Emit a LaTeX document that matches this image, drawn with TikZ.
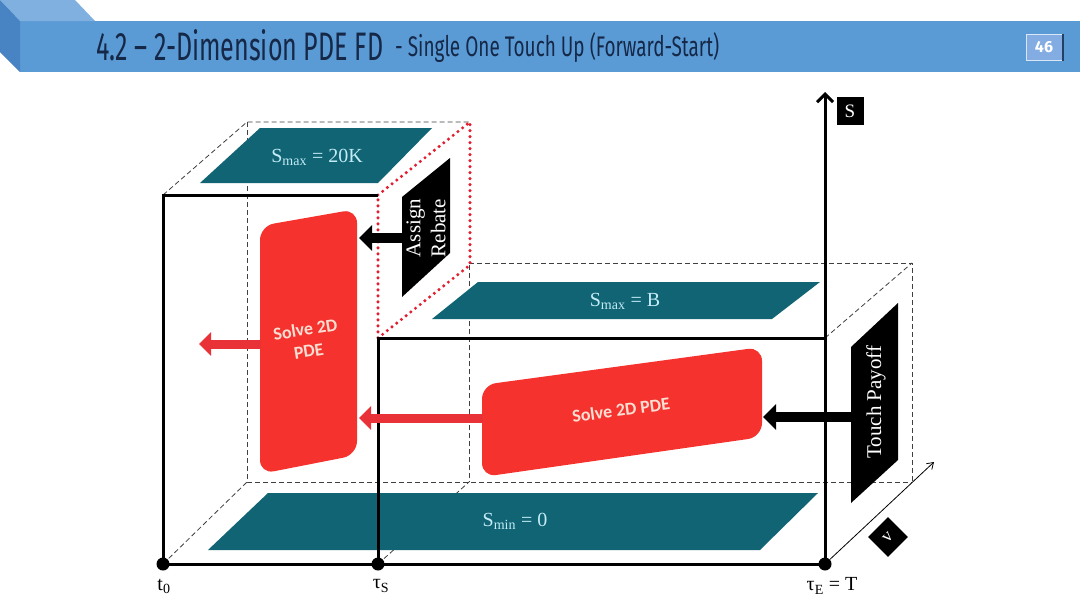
\documentclass[tikz,border=0pt]{standalone}
\usepackage{fontspec}
\setmainfont{Liberation Serif}
\newfontfamily\titlefont{Fira Sans}
\newfontfamily\calfont{Carlito}
\usetikzlibrary{arrows.meta}
\definecolor{bannerc}{RGB}{91,155,213}
\definecolor{bannertop}{RGB}{128,176,224}
\definecolor{bannerside}{RGB}{72,132,196}
\definecolor{titlec}{RGB}{22,40,72}
\definecolor{pagec}{RGB}{130,172,226}
\definecolor{tealc}{RGB}{16,100,116}
\definecolor{platetext}{RGB}{196,236,246}
\definecolor{redc}{RGB}{245,50,46}
\definecolor{redarr}{RGB}{232,50,56}
\definecolor{redtext}{RGB}{252,222,210}
\definecolor{dotred}{RGB}{226,30,48}
\tikzset{
  dashedge/.style={draw=black!75, line width=0.8pt, dash pattern=on 5pt off 3pt},
  frontedge/.style={draw=black, line width=3pt},
  plate/.style={fill=tealc},
  platelabel/.style={text=platetext, font=\fontsize{20}{20}\selectfont, inner sep=0pt},
  redblock/.style={fill=redc, rounded corners=14pt},
  redlabel/.style={text=redtext, font=\calfont\bfseries\fontsize{18}{22}\selectfont, align=center, inner sep=0pt},
  blackpar/.style={fill=black},
  blacklabel/.style={text=white, font=\fontsize{21}{25}\selectfont, align=center, inner sep=0pt, rotate=90},
  blackarrow/.style={draw=black, line width=10pt, -{Triangle[length=13pt,width=25pt]}},
  redarrow/.style={draw=redarr, line width=9pt, -{Triangle[length=12pt,width=23pt]}},
  timedot/.style={circle, fill=black, minimum size=13pt, inner sep=0pt},
  timelabel/.style={font=\fontsize{20}{20}\selectfont, inner sep=0pt},
}
\begin{document}
\begin{tikzpicture}[x=1pt,y=-1pt]
\useasboundingbox (0,0) rectangle (1080,608);
\fill[white] (0,0) rectangle (1080,608);

% ---- header banner
\fill[bannerc] (20,21) rectangle (1080,72);
\fill[bannertop] (0,0) -- (75,0) -- (95,21) -- (20,21) -- cycle;
\fill[bannerside] (0,0) -- (20,21) -- (20,72) -- (0,52) -- cycle;
\node[anchor=base west, inner sep=0pt, text=titlec] (title) at (96,60)
  {\resizebox{287pt}{31pt}{\titlefont 4.2 – 2-Dimension PDE FD}};
\node[anchor=south west, inner sep=0pt, text=titlec] (subtitle) at (395,63)
  {\resizebox*{324pt}{30pt}{\titlefont - Single One Touch Up (Forward-Start)}};
\node[fill=pagec, draw=white!70!pagec, line width=0.8pt, minimum width=36pt, minimum height=26pt,
      inner sep=0pt, text=white, font=\titlefont\bfseries\fontsize{16}{16}\selectfont] (page) at (1044,47) {46};
\draw[line width=2pt, draw=titlec!80!bannerc] (1063,34) -- (1063,61);

% ---- back (hidden) edges
\draw[dashedge] (163,195) -- (247,122) -- (470,122);
\draw[dashedge] (247,122) -- (247,482) -- (912,482);
\draw[dashedge] (163,564) -- (247,482);
\draw[dashedge] (378,564) -- (469,482);
\draw[dashedge] (469,265) -- (469,482);
\draw[dashedge] (469,263) -- (912,263) -- (912,482);
\draw[dashedge] (825,338) -- (912,263);

% ---- red dotted face
\draw[draw=dotred, line width=3.4pt, line cap=round, dash pattern=on 0pt off 6pt]
  (378,195) -- (470,122) -- (470,265) -- (378,338) -- cycle;

% ---- teal plates
\fill[plate] (200,183) -- (260,128) -- (432,128) -- (378,183) -- cycle;
\node[platelabel] (smax1) at (317,157) {S\textsubscript{max} = 20K};
\fill[plate] (432,319) -- (478,282) -- (820,282) -- (772,319) -- cycle;
\node[platelabel] (smax2) at (625,301) {S\textsubscript{max} = B};
\fill[plate] (208,550) -- (268,493) -- (818,493) -- (760,550) -- cycle;
\node[platelabel] (smin) at (515,521) {S\textsubscript{min} = 0};

% ---- red blocks
\fill[redblock] (260,350) -- (260,226) -- (357,209) -- (357,455) -- (260,474) -- cycle;
\node[redlabel, rotate=9] (solveA) at (307,340) {Solve 2D\\PDE};
\fill[redblock] (482,430) -- (482,385) -- (762,347) -- (762,437) -- (482,477) -- cycle;
\node[redlabel, rotate=7.7] (solveB) at (621,410) {Solve 2D PDE};

% ---- black parallelograms
\fill[blackpar] (402,197) -- (450,158) -- (450,253) -- (402,297) -- cycle;
\node[blacklabel] (rebate) at (426,228) {Assign\\Rebate};
\fill[blackpar] (851,347) -- (898,303) -- (898,460) -- (851,503) -- cycle;
\node[blacklabel] (touch) at (876,402) {Touch Payoff};

% ---- front edges
\draw[frontedge] (163,564) -- (163,195) -- (378,195);
\draw[frontedge] (378,564) -- (378,338) -- (825,338);
\draw[frontedge] (163,564) -- (825,564);

% ---- arrows
\coordinate (rebW) at (402,238);
\coordinate (solveAE1) at (359,238);
\coordinate (touchW) at (851,417);
\coordinate (solveBE) at (763,417);
\coordinate (solveBW) at (483,418);
\coordinate (solveAE2) at (359,418);
\coordinate (solveAW) at (261,344);
\coordinate (outL) at (199,344);
\draw[blackarrow] (rebW) -- (solveAE1);
\draw[blackarrow] (touchW) -- (solveBE);
\draw[redarrow] (solveBW) -- (solveAE2);
\draw[redarrow] (solveAW) -- (outL);

% ---- axes
\coordinate (sTop) at (825,92);
\coordinate (vTip) at (934,462);
\node[timedot] (t0) at (163,564) {};
\node[timedot] (tS) at (378,564) {};
\node[timedot] (tE) at (825,564) {};
\draw[line width=3pt, -{Straight Barb[length=8pt,width=16pt]}] (tE.center) -- (sTop);
\draw[line width=0.8pt, -{Straight Barb[length=6pt,width=8pt]}] (tE) -- (vTip);
\node[fill=black, text=white, minimum width=27pt, minimum height=28pt, inner sep=0pt,
      font=\fontsize{19}{19}\selectfont] (Slab) at (850,111) {S};
\node[fill=black, text=white, minimum size=28pt, inner sep=0pt, rotate=45,
      font=\fontsize{18}{18}\selectfont] (vlab) at (888,537) {v};

% ---- time labels
\node[timelabel] (t0lab) at (164,586) {t\textsubscript{0}};
\node[timelabel] (tSlab) at (381,586) {τ\textsubscript{S}};
\node[timelabel] (tElab) at (832,586) {τ\textsubscript{E} = T};
\end{tikzpicture}
\end{document}
